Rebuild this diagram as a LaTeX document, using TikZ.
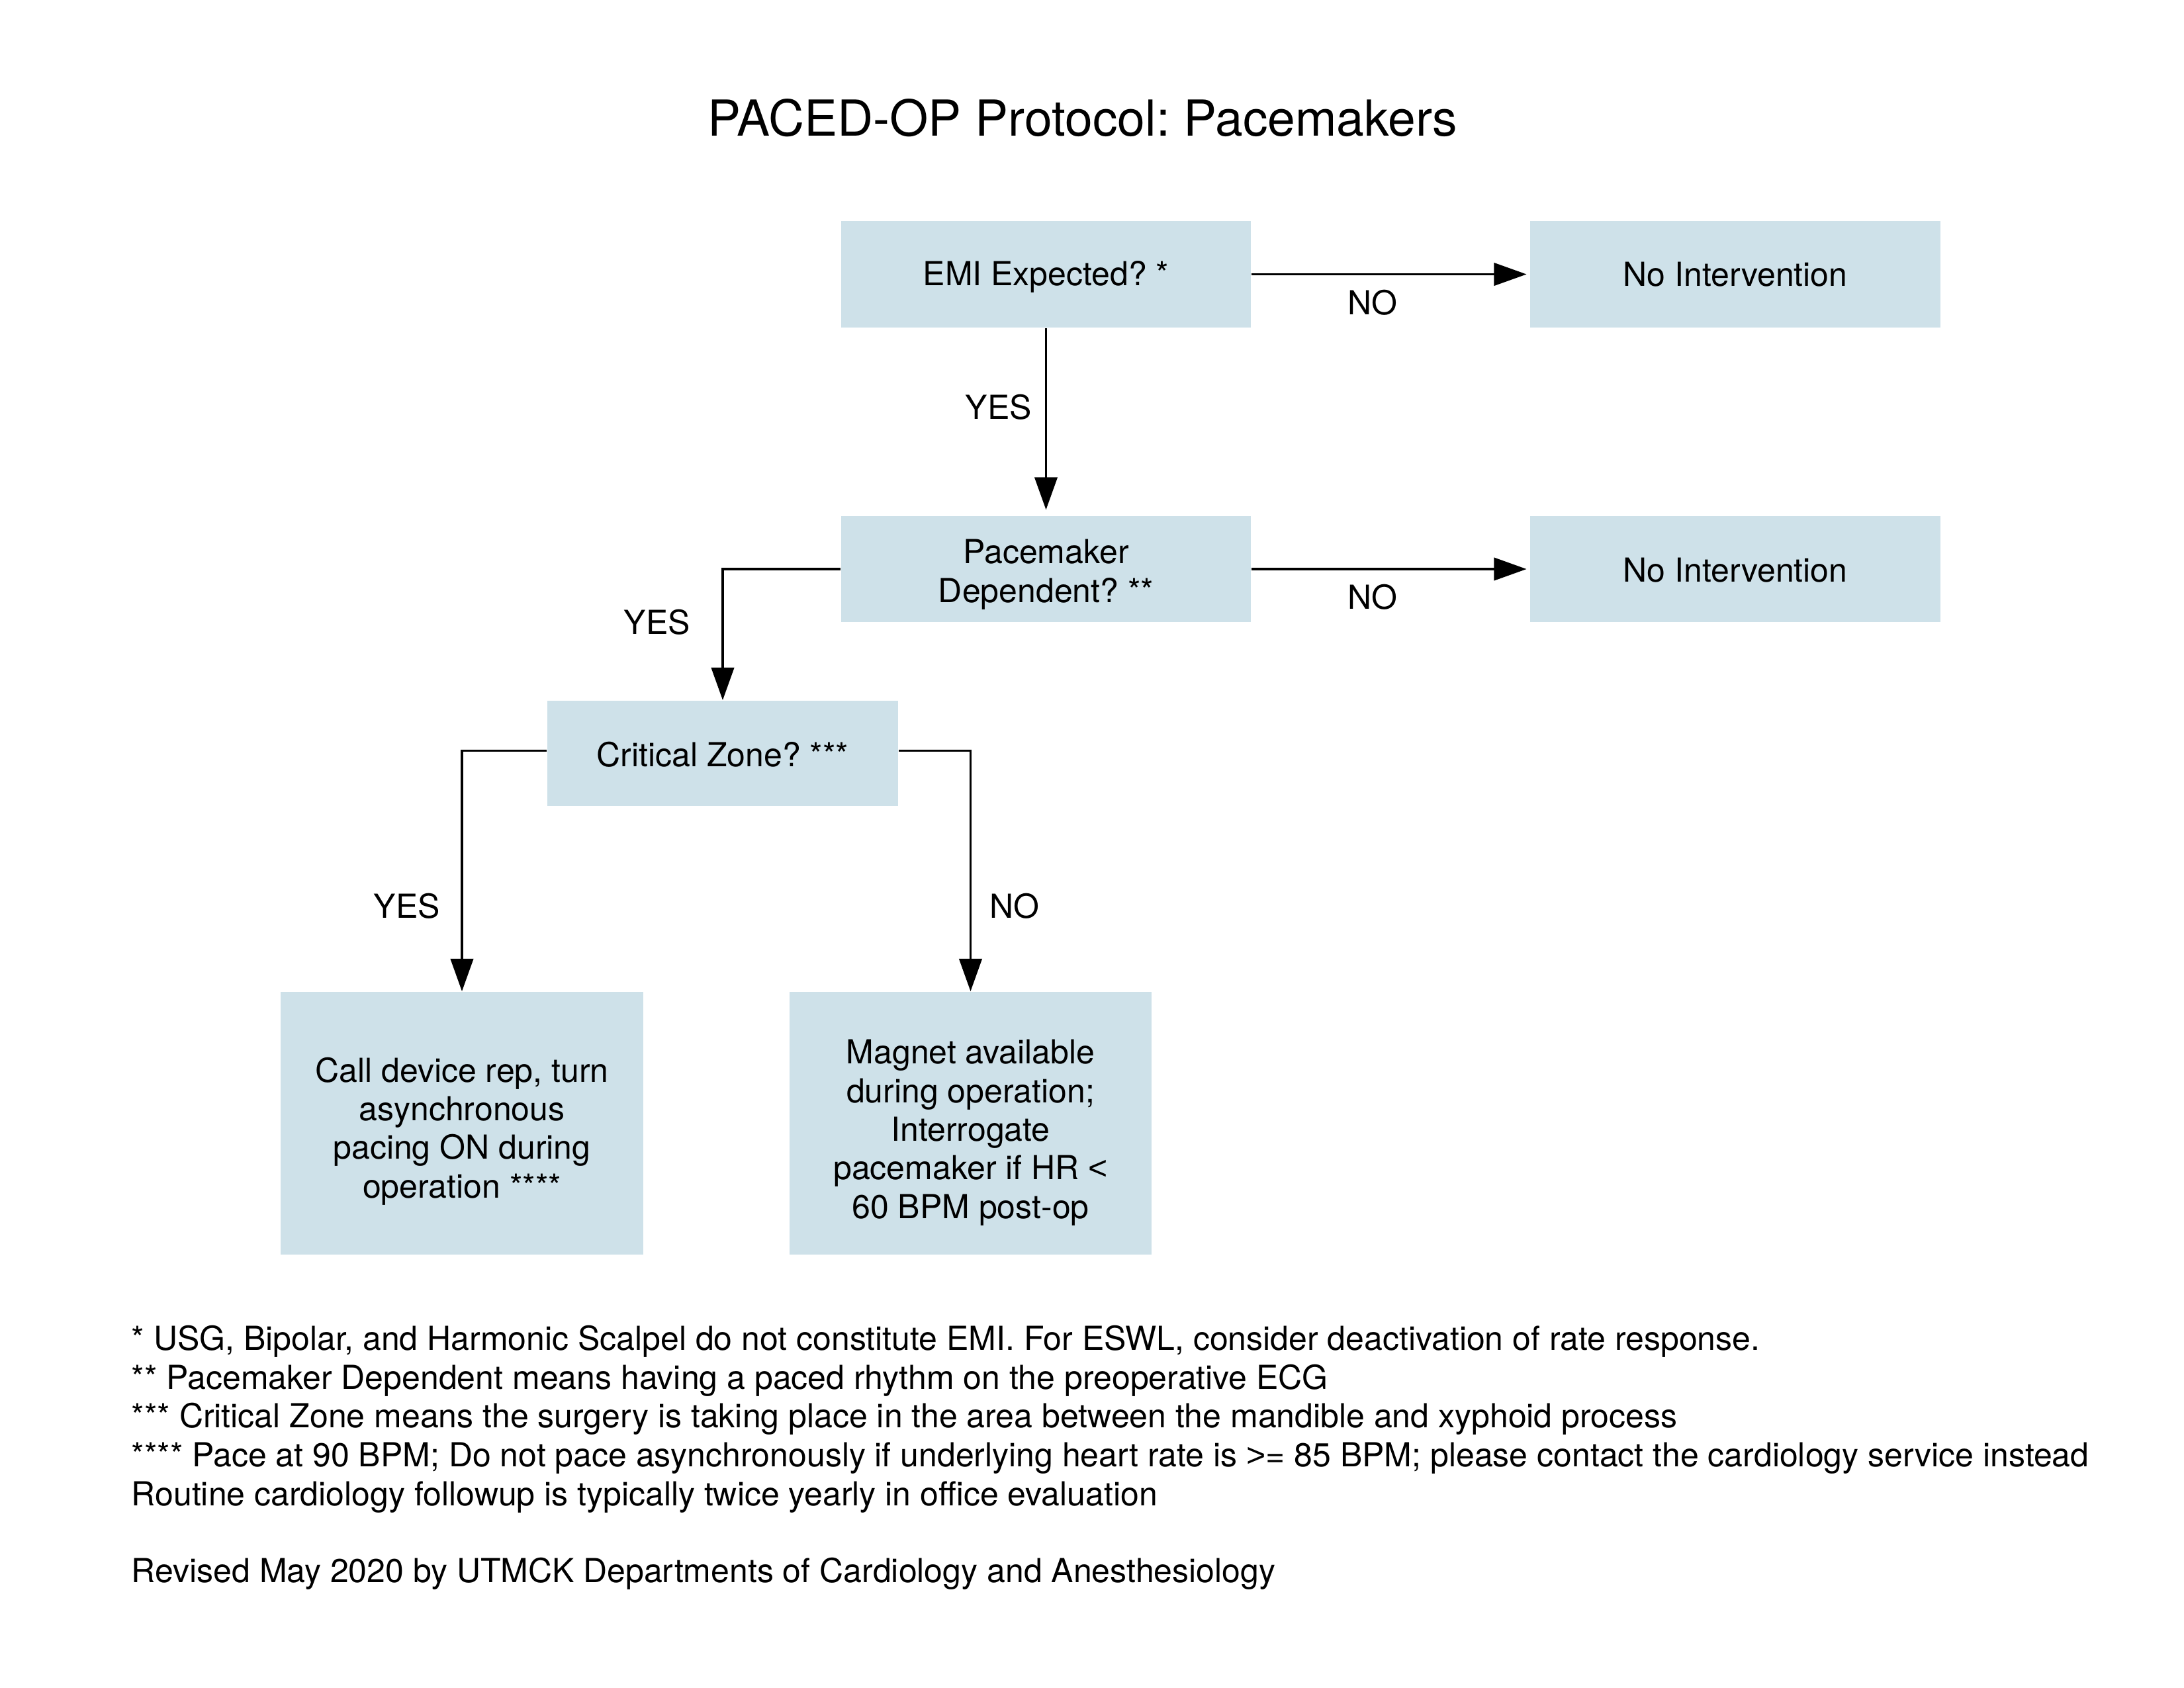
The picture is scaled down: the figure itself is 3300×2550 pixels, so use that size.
\documentclass[tikz,border=0pt]{standalone}
\usepackage{fontspec}
\setmainfont{TeX Gyre Heros}
\newfontfamily\symfont{Liberation Sans}
\usetikzlibrary{arrows.meta}
\definecolor{boxblue}{RGB}{206,225,233}
\newcommand\tdown[1]{\rule{0pt}{\dimexpr 8.7pt+#1*2\relax}}
\newcommand\lesssign{{\symfont\symbol{"003C}}}
\newcommand\moresign{{\symfont\symbol{"003E}}}
\frenchspacing
\begin{document}
\begin{tikzpicture}[x=0.24pt,y=-0.24pt,
  box/.style={fill=boxblue, draw=none, inner sep=0pt, align=center, font=\fontsize{12}{14}\selectfont},
  widebox/.style={box, minimum width=148.6pt, minimum height=38.6pt},
  midbox/.style={box, minimum width=127.2pt, minimum height=38.2pt},
  tallbox/.style={box, minimum width=131.4pt, minimum height=95.3pt},
  arr/.style={draw=black, line width=0.85pt, -{Triangle[length=11.8pt,width=8.2pt]}},
  lbl/.style={font=\fontsize{12}{14}\selectfont, anchor=base, inner sep=0pt},
  note/.style={font=\fontsize{12}{14}\selectfont, anchor=base west, inner sep=0pt}]
\useasboundingbox (0,0) rectangle (3300,2550);
\fill[white] (0,0) rectangle (3300,2550);

\node[font=\fontsize{18}{22}\selectfont, anchor=base, inner sep=0pt] (title) at (1636,205) {PACED-OP Protocol: Pacemakers};

\node[widebox] (emi) at (1580.5,414.5) {\tdown{1pt}EMI Expected? *};
\node[widebox] (ni1) at (2622,414.5) {No Intervention};
\node[widebox] (pd) at (1580.5,860) {\tdown{2pt}Pacemaker\\Dependent? **};
\node[widebox] (ni2) at (2622,860) {\tdown{0.5pt}No Intervention};
\node[midbox] (cz) at (1092,1138.5) {\tdown{0.5pt}Critical Zone? ***};
\node[tallbox] (call) at (698,1697.5) {\tdown{3pt}Call device rep, turn\\asynchronous\\pacing ON during\\operation ****};
\node[tallbox] (mag) at (1466.5,1697.5) {\tdown{3.4pt}Magnet available\\during operation;\\Interrogate\\pacemaker if HR \lesssign\\60 BPM post-op};

\draw[arr, shorten >=1.2pt] (emi.east) -- (ni1.west);
\draw[arr, shorten >=2pt] (emi.south) -- (pd.north);
\draw[arr, shorten >=1.2pt] (pd.east) -- (ni2.west);
\draw[arr] (pd.west) -| (cz.north);
\draw[arr] ([yshift=1pt]cz.west) -| (call.north);
\draw[arr] ([yshift=1pt]cz.east) -| (mag.north);

\node[lbl] (lno1) at (2074,475) {NO};
\node[lbl] (lyes1) at (1509,633) {YES};
\node[lbl] (lno2) at (2074,920) {NO};
\node[lbl] (lyes2) at (993,958) {YES};
\node[lbl] (lyes3) at (615,1387) {YES};
\node[lbl] (lno3) at (1533,1387) {NO};

\node[note] (fn1) at (198,2040) {* USG, Bipolar, and Harmonic Scalpel do not constitute EMI. For ESWL, consider deactivation of rate response.};
\node[note] (fn2) at (198,2099) {** Pacemaker Dependent means having a paced rhythm on the preoperative ECG};
\node[note] (fn3) at (198,2157) {*** Critical Zone means the surgery is taking place in the area between the mandible and xyphoid process};
\node[note] (fn4) at (198,2216) {**** Pace at 90 BPM; Do not pace asynchronously if underlying heart rate is \moresign= 85 BPM; please contact the cardiology service instead};
\node[note] (fn5) at (198,2275) {Routine cardiology followup is typically twice yearly in office evaluation};
\node[note] (fn6) at (198,2391) {Revised May 2020 by UTMCK Departments of Cardiology and Anesthesiology};
\end{tikzpicture}
\end{document}
